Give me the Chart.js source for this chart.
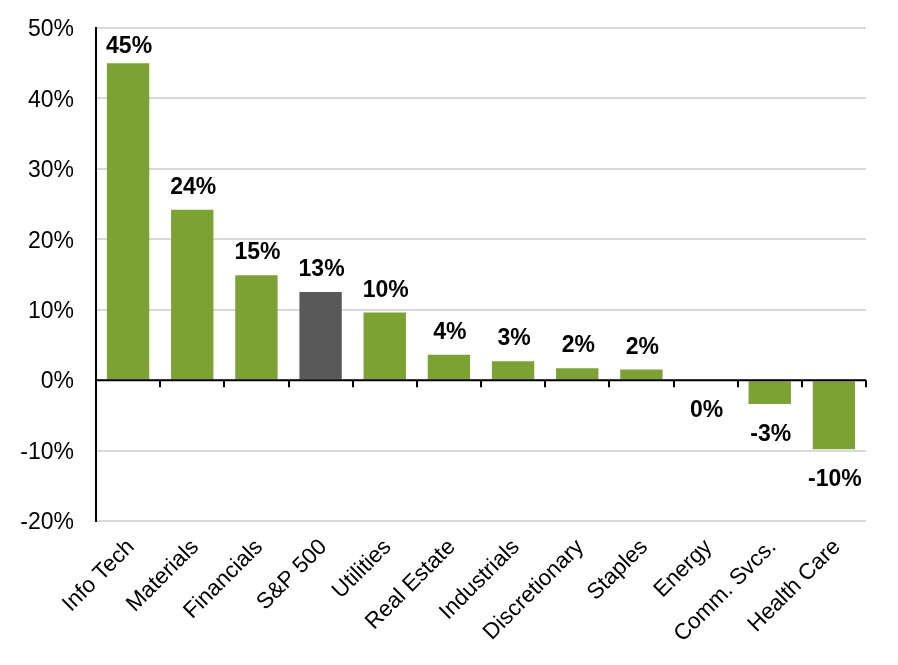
<!DOCTYPE html>
<html>
<head>
<meta charset="utf-8">
<script src="https://cdn.jsdelivr.net/npm/chart.js@4.4.0/dist/chart.umd.min.js"></script>
<style>
  html, body { margin: 0; padding: 0; background: #ffffff; }
  #wrap { width: 898px; height: 665px; position: relative; }
</style>
</head>
<body>
<div id="wrap"><canvas id="c"></canvas></div>
<script>
const categories = ["Info Tech", "Materials", "Financials", "S&P 500", "Utilities", "Real Estate", "Industrials", "Discretionary", "Staples", "Energy", "Comm. Svcs.", "Health Care"];
const returns = [45.0, 24.2, 14.9, 12.5, 9.6, 3.6, 2.7, 1.7, 1.5, 0.0, -3.4, -9.8];
const highlight = [false, false, false, true, false, false, false, false, false, false, false, false];
const yTicks = [-20, -10, 0, 10, 20, 30, 40, 50];

const GREEN = '#7ba232';
const GRAY = '#595959';
const FONT = "'Liberation Sans', Arial, sans-serif";

const zeroAxisPlugin = {
  id: 'zeroAxis',
  afterDatasetsDraw(chart) {
    const ctx = chart.ctx;
    const x = chart.scales.x, y = chart.scales.y;
    const y0 = y.getPixelForValue(0);
    const n = categories.length;
    const step = (x.right - x.left) / n;
    ctx.save();
    ctx.strokeStyle = '#000';
    ctx.lineWidth = 2;
    ctx.beginPath();
    ctx.moveTo(x.left, y0);
    ctx.lineTo(x.right, y0);
    for (let i = 1; i <= n; i++) {
      const px = Math.round(x.getPixelForValue(i - 1) + step / 2);
      ctx.moveTo(px, y0);
      ctx.lineTo(px, y0 + 7);
    }
    ctx.stroke();
    ctx.restore();
  }
};

const labelPlugin = {
  id: 'barLabels',
  afterDatasetsDraw(chart) {
    const ctx = chart.ctx;
    const meta = chart.getDatasetMeta(0);
    const top = chart.chartArea.top;
    ctx.save();
    ctx.font = "bold 23px " + FONT;
    ctx.fillStyle = '#000';
    ctx.textAlign = 'center';
    ctx.textBaseline = 'alphabetic';
    meta.data.forEach((bar, i) => {
      const v = returns[i];
      const txt = Math.round(v) + '%';
      let by;
      if (v > 0) {
        by = Math.max(bar.y - 16, top + 25);
      } else {
        by = Math.max(bar.y, bar.base) + 37;
      }
      ctx.fillText(txt, bar.x + 1, by);
    });
    ctx.restore();
  }
};

new Chart(document.getElementById('c'), {
  type: 'bar',
  data: {
    labels: categories,
    datasets: [{
      data: returns,
      backgroundColor: highlight.map(h => h ? GRAY : GREEN),
      borderWidth: 0,
      categoryPercentage: 1.0,
      barPercentage: 0.66
    }]
  },
  options: {
    responsive: true,
    maintainAspectRatio: false,
    animation: false,
    layout: { padding: { top: 28, right: 32, bottom: 0, left: 0 } },
    plugins: { legend: { display: false }, tooltip: { enabled: false } },
    scales: {
      x: {
        grid: { display: false, drawTicks: false },
        border: { display: false },
        ticks: {
          color: '#000',
          font: { family: FONT, size: 22.5 },
          minRotation: 45,
          maxRotation: 45,
          padding: 13,
          labelOffset: 3,
          autoSkip: false
        },
        afterFit(s) { s.height = 144; }
      },
      y: {
        min: -20,
        max: 50,
        afterBuildTicks(s) { s.ticks = yTicks.map(v => ({ value: v })); },
        grid: {
          color: '#d9d9d9',
          lineWidth: 2,
          drawTicks: false
        },
        border: { display: true, color: '#000', width: 2 },
        ticks: {
          color: '#000',
          font: { family: FONT, size: 23 },
          padding: 22,
          labelOffset: 2,
          callback: v => v + '%'
        },
        afterFit(s) { s.width = 96; s.paddingTop = 0; s.paddingBottom = 0; }
      }
    }
  },
  plugins: [zeroAxisPlugin, labelPlugin]
});
</script>
</body>
</html>
